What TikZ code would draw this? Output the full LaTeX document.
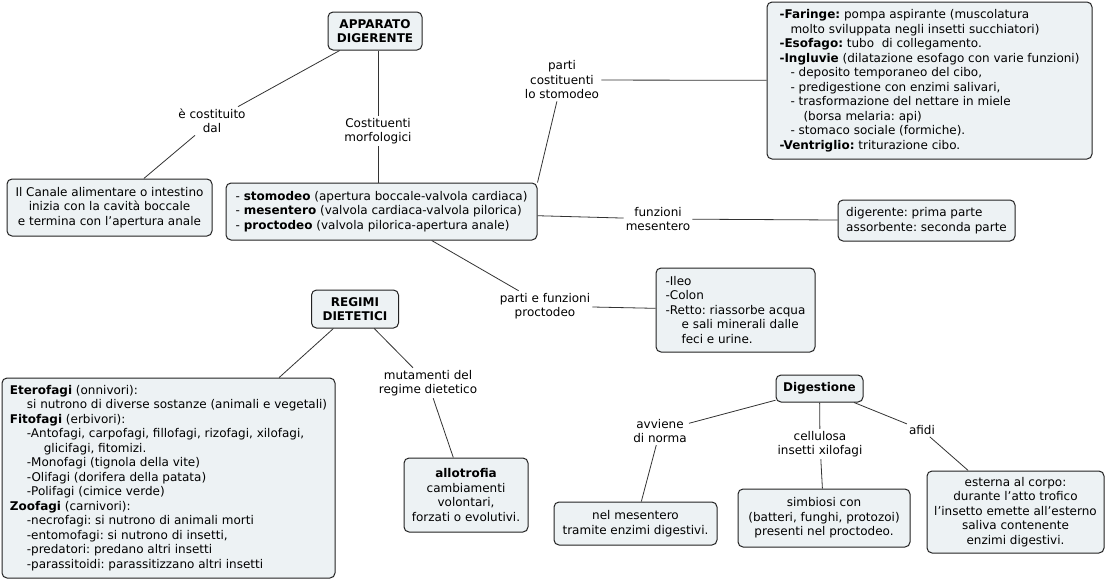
\documentclass[tikz,border=0pt]{standalone}
\usepackage{fontspec}
\setmainfont{DejaVu Sans}
\definecolor{boxfill}{HTML}{EDF2F4}
\definecolor{boxline}{HTML}{222222}
\definecolor{connline}{HTML}{333333}
\newcommand{\ind}[1]{\hspace*{#1pt}}
\frenchspacing
\begin{document}
\begin{tikzpicture}[x=1pt,y=-1pt,
  txt/.style={font=\fontsize{12}{14.5}\selectfont},
  cbox/.style={txt, draw=boxline, line width=1pt, fill=boxfill, rounded corners=5pt, inner sep=3pt},
  lbl/.style={txt, inner sep=2pt, align=center},
  conn/.style={draw=connline, line width=0.8pt}]
\useasboundingbox (0,0) rectangle (1107,584);
\fill[white] (0,0) rectangle (1107,584);

% boxes
\node[cbox, minimum width=94pt, minimum height=38pt, align=center, font=\fontsize{12}{14.5}\selectfont\bfseries] (app) at (375,31) {APPARATO\\DIGERENTE};
\node[cbox, minimum width=205pt, minimum height=57pt, align=center] (canale) at (109.5,207.5) {Il Canale alimentare o intestino\\inizia con la cavità boccale\\e termina con l’apertura anale};
\node[cbox, minimum width=311pt, minimum height=57pt, align=left] (main) at (381.5,211.5) {- \textbf{stomodeo} (apertura boccale-valvola cardiaca)\\- \textbf{mesentero} (valvola cardiaca-valvola pilorica)\\- \textbf{proctodeo} (valvola pilorica-apertura anale)};
\node[cbox, minimum width=325pt, minimum height=157pt, align=left] (faringe) at (929.5,80.5) {\textbf{-Faringe:} pompa aspirante (muscolatura\\\ind{11}molto sviluppata negli insetti succhiatori)\\\textbf{-Esofago:} tubo\ \ di collegamento.\\\textbf{-Ingluvie} (dilatazione esofago con varie funzioni)\\\ind{11}- deposito temporaneo del cibo,\\\ind{11}- predigestione con enzimi salivari,\\\ind{11}- trasformazione del nettare in miele\\\ind{24}(borsa melaria: api)\\\ind{11}- stomaco sociale (formiche).\\\textbf{-Ventriglio:} triturazione cibo.};
\node[cbox, minimum width=177pt, minimum height=41pt, align=left] (dig) at (926.5,220.5) {digerente: prima parte\\assorbente: seconda parte};
\node[cbox, minimum width=159pt, minimum height=84pt, align=left] (ileo) at (735.5,310) {-Ileo\\-Colon\\-Retto: riassorbe acqua\\\ind{16}e sali minerali dalle\\\ind{16}feci e urine.};
\node[cbox, minimum width=87pt, minimum height=38pt, align=center, font=\fontsize{12}{14.5}\selectfont\bfseries] (regimi) at (355,309) {REGIMI\\DIETETICI};
\node[cbox, minimum width=333pt, minimum height=200pt, align=left] (etero) at (168.5,478) {\textbf{Eterofagi} (onnivori):\\\ind{17}si nutrono di diverse sostanze (animali e vegetali)\\\textbf{Fitofagi} (erbivori):\\\ind{17}-Antofagi, carpofagi, fillofagi, rizofagi, xilofagi,\\\ind{34}glicifagi, fitomizi.\\\ind{17}-Monofagi (tignola della vite)\\\ind{17}-Olifagi (dorifera della patata)\\\ind{17}-Polifagi (cimice verde)\\\textbf{Zoofagi} (carnivori):\\\ind{17}-necrofagi: si nutrono di animali morti\\\ind{17}-entomofagi: si nutrono di insetti,\\\ind{17}-predatori: predano altri insetti\\\ind{17}-parassitoidi: parassitizzano altri insetti};
\node[cbox, minimum width=124pt, minimum height=74pt, align=center] (allo) at (466,495) {\textbf{allotrofia}\\cambiamenti\\volontari,\\forzati o evolutivi.};
\node[cbox, minimum width=87pt, minimum height=27pt, align=center, font=\fontsize{12}{14.5}\selectfont\bfseries] (digest) at (819.5,388.5) {Digestione};
\node[cbox, minimum width=163pt, minimum height=43pt, align=center] (nel) at (635.5,523.5) {nel mesentero\\tramite enzimi digestivi.};
\node[cbox, minimum width=172pt, minimum height=58pt, align=center] (simb) at (824,518) {simbiosi con\\(batteri, funghi, protozoi)\\presenti nel proctodeo.};
\node[cbox, minimum width=177pt, minimum height=82pt, align=center] (est) at (1015.5,512) {esterna al corpo:\\durante l’atto trofico\\l’insetto emette all’esterno\\saliva contenente\\enzimi digestivi.};

% labels
\node[lbl] (l1) at (212,121) {è costituito\\dal};
\node[lbl] (l2) at (378,131) {Costituenti\\morfologici};
\node[lbl] (l3) at (562,80) {parti\\costituenti\\lo stomodeo};
\node[lbl] (l4) at (658,219) {funzioni\\mesentero};
\node[lbl] (l5) at (545,306) {parti e funzioni\\proctodeo};
\node[lbl] (l6) at (428,383) {mutamenti del\\regime dietetico};
\node[lbl] (l7) at (660,431) {avviene\\di norma};
\node[lbl] (l8) at (820,444) {cellulosa\\insetti xilofagi};
\node[lbl] (l9) at (922,430) {afidi};

% connectors
\draw[conn] (app) -- (l1);
\draw[conn] (l1) -- (canale);
\draw[conn] (app.south -| l2) -- (l2);
\draw[conn] (l2) -- (l2 |- main.north);
\draw[conn] (main.north east) -- (l3);
\draw[conn] (l3) -- (faringe);
\draw[conn] (main) -- (l4);
\draw[conn] (l4) -- (dig);
\draw[conn] (main) -- (l5);
\draw[conn] (l5) -- (ileo);
\draw[conn] (regimi) -- (etero);
\draw[conn] (regimi) -- (l6);
\draw[conn] (l6) -- (allo);
\draw[conn] (digest) -- (l7);
\draw[conn] (l7) -- (nel);
\draw[conn] (digest) -- (l8);
\draw[conn] (l8) -- (simb);
\draw[conn] (digest) -- (l9);
\draw[conn] (l9) -- (est);
\end{tikzpicture}
\end{document}
